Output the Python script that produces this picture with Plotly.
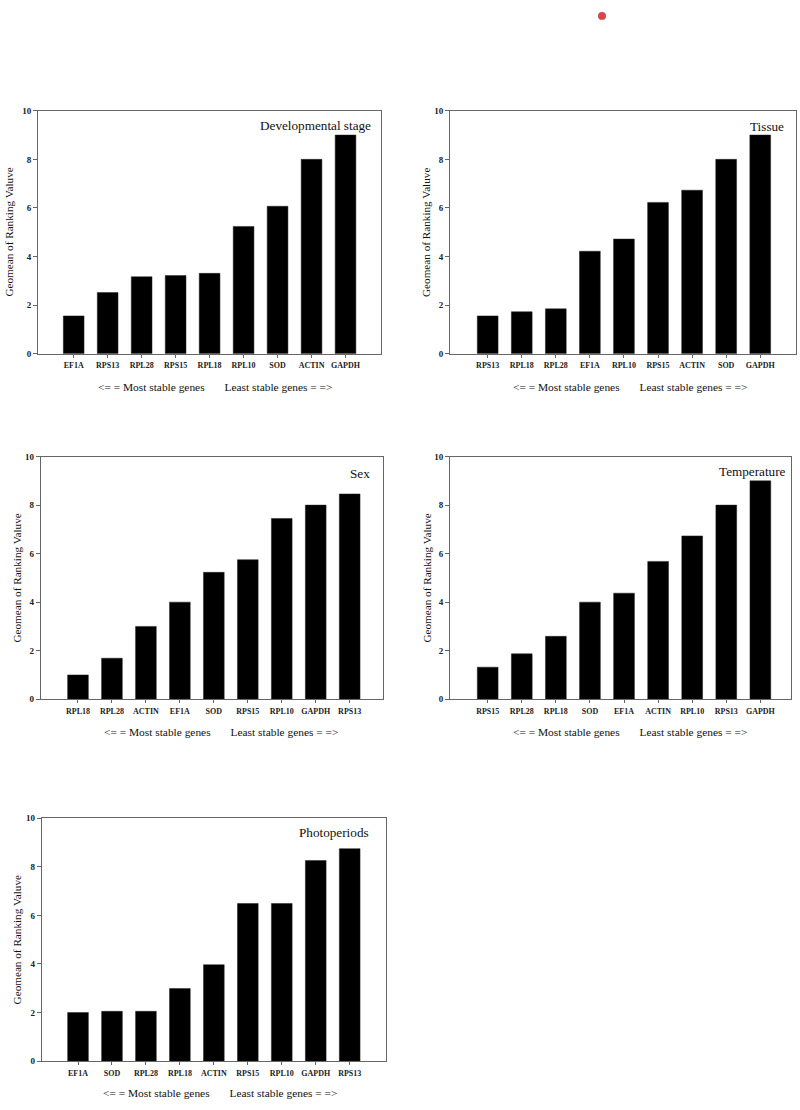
import plotly.graph_objects as go

W, H = 800, 1110

# ---------------- data ----------------
dev_genes = ["EF1A", "RPS13", "RPL28", "RPS15", "RPL18", "RPL10", "SOD", "ACTIN", "GAPDH"]
dev_vals = [1.56, 2.52, 3.17, 3.22, 3.31, 5.24, 6.07, 8.0, 9.0]

tis_genes = ["RPS13", "RPL18", "RPL28", "EF1A", "RPL10", "RPS15", "ACTIN", "SOD", "GAPDH"]
tis_vals = [1.56, 1.73, 1.85, 4.22, 4.72, 6.23, 6.73, 8.0, 9.0]

sex_genes = ["RPL18", "RPL28", "ACTIN", "EF1A", "SOD", "RPS15", "RPL10", "GAPDH", "RPS13"]
sex_vals = [1.0, 1.69, 3.0, 4.0, 5.23, 5.75, 7.45, 8.0, 8.46]

tem_genes = ["RPS15", "RPL28", "RPL18", "SOD", "EF1A", "ACTIN", "RPL10", "RPS13", "GAPDH"]
tem_vals = [1.32, 1.87, 2.59, 4.0, 4.37, 5.68, 6.73, 8.0, 9.0]

pho_genes = ["EF1A", "SOD", "RPL28", "RPL18", "ACTIN", "RPS15", "RPL10", "GAPDH", "RPS13"]
pho_vals = [2.0, 2.05, 2.05, 2.99, 3.97, 6.49, 6.49, 8.26, 8.75]

panel_titles = ["Developmental stage", "Tissue", "Sex", "Temperature", "Photoperiods"]
y_title = "Geomean of Ranking Valuve"
caption = "<= = Most stable genes\u00a0\u00a0\u00a0\u00a0\u00a0\u00a0\u00a0Least stable genes = =>"
y_ticks = [0, 2, 4, 6, 8, 10]

# ---------------- layout geometry (pixels) ----------------
# (left, right, top, bottom) of each plot area
boxes = [
    (38.0, 380.7, 106.7, 352.0),
    (450.0, 796.0, 106.7, 352.0),
    (40.7, 383.3, 455.7, 700.5),
    (450.0, 790.7, 455.7, 700.5),
    (41.7, 385.7, 820.7, 1065.7),
]
xranges = [(-1.05, 9.035), (-1.106, 9.05), (-1.098, 8.99), (-1.106, 8.89), (-1.069, 9.06)]
title_pos = [(372.7, 121.7), (786.0, 122.3), (371.7, 472.7), (787.7, 471.0), (370.7, 835.0)]
ytitle_x = [9.3, 426.7, 16.7, 426.7, 16.7]
caption_pos = [(215.0, 385.0), (630.0, 385.0), (220.5, 733.3), (630.0, 733.3), (220.0, 1098.3)]

genes = [dev_genes, tis_genes, sex_genes, tem_genes, pho_genes]
vals = [dev_vals, tis_vals, sex_vals, tem_vals, pho_vals]

SERIF = "Liberation Serif"
AXC = "#666666"

def px(x):
    return x / W

def py(y):
    return 1 - y / H

fig = go.Figure()
annotations = []
for i in range(5):
    n = "" if i == 0 else str(i + 1)
    l, r, t, b = boxes[i]
    fig.add_trace(go.Bar(
        x=genes[i], y=vals[i], width=0.61,
        marker=dict(color="black", line=dict(color="#222222", width=0.5)),
        xaxis="x" + n, yaxis="y" + n, showlegend=False,
    ))
    fig.layout["xaxis" + n] = dict(
        domain=[px(l), px(r)], anchor="y" + n, range=list(xranges[i]),
        type="category", showline=True, linecolor=AXC, linewidth=1, mirror=True,
        ticks="outside", ticklen=3, tickcolor=AXC, tickwidth=1,
        showgrid=False, zeroline=False, ticklabelstandoff=1,
        tickfont=dict(family=SERIF, size=8, color="#222", weight="bold"),
        fixedrange=True,
    )
    fig.layout["yaxis" + n] = dict(
        domain=[py(b), py(t)], anchor="x" + n, range=[0, 10],
        tickvals=y_ticks, ticks="outside", ticklen=4, tickcolor=AXC, tickwidth=1,
        showline=True, linecolor=AXC, linewidth=1, mirror=True,
        showgrid=False, zeroline=False,
        tickfont=dict(family=SERIF, size=9, color="#222", weight="bold"),
        fixedrange=True,
    )
    tx, ty = title_pos[i]
    annotations.append(dict(
        text=panel_titles[i], x=px(tx), y=py(ty), xref="paper", yref="paper",
        xanchor="right", yanchor="middle", showarrow=False,
        font=dict(family=SERIF, size=13.2, color="#111"),
    ))
    annotations.append(dict(
        text=y_title, x=px(ytitle_x[i]), y=py((t + b) / 2), xref="paper", yref="paper",
        xanchor="center", yanchor="middle", textangle=-90, showarrow=False,
        font=dict(family=SERIF, size=11.2, color="#111"),
    ))
    cx, cy = caption_pos[i]
    annotations.append(dict(
        text=caption, x=px(cx), y=py(cy), xref="paper", yref="paper",
        xanchor="center", yanchor="middle", showarrow=False,
        font=dict(family=SERIF, size=11.4, color="#111"),
    ))

fig.update_layout(
    width=W, height=H, margin=dict(l=0, r=0, t=0, b=0),
    paper_bgcolor="white", plot_bgcolor="white",
    annotations=annotations, bargap=0.39,
    shapes=[dict(type="circle", xref="paper", yref="paper",
                 x0=px(598), x1=px(606), y0=py(15), y1=py(7),
                 fillcolor="#d9454a", line=dict(width=0))],
)

fig.write_html(
    "out.html",
    config={"displayModeBar": False, "staticPlot": True},
    post_script="document.body.style.margin='0';document.body.style.padding='0';",
)
